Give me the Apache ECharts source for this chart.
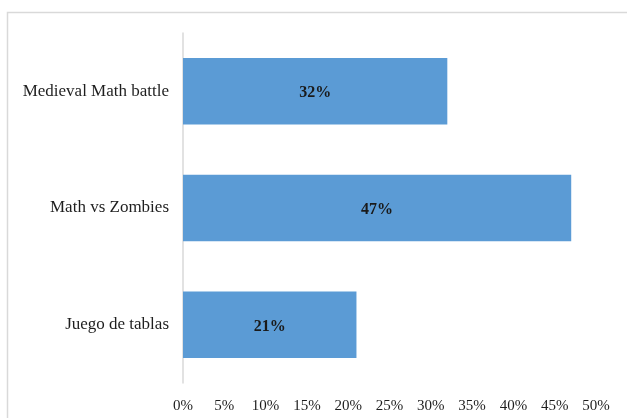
<!DOCTYPE html>
<html>
<head>
<meta charset="utf-8">
<script src="https://cdn.jsdelivr.net/npm/echarts@6/dist/echarts.min.js"></script>
<style>
html,body{margin:0;padding:0;background:#fff;}
#c{width:627px;height:418px;}
</style>
</head>
<body>
<div id="c"></div>
<script>
var categories = ['Juego de tablas', 'Math vs Zombies', 'Medieval Math battle'];
var values = [21, 47, 32];
var tickMax = 50;
var tickStep = 5;

var chart = echarts.init(document.getElementById('c'), null, {renderer: 'canvas'});
chart.setOption({
  animation: false,
  backgroundColor: '#ffffff',
  graphic: [{
    type: 'rect',
    shape: {x: 7.5, y: 12.5, width: 640, height: 420},
    style: {fill: 'none', stroke: '#d9d9d9', lineWidth: 1.5},
    silent: true
  }],
  grid: {left: 183, right: 31, top: 33, bottom: 35, containLabel: false},
  xAxis: {
    type: 'value',
    min: 0, max: tickMax, interval: tickStep,
    axisLine: {show: false},
    axisTick: {show: false},
    splitLine: {show: false},
    axisLabel: {
      formatter: '{value}%',
      fontFamily: 'Liberation Serif',
      fontSize: 15,
      color: '#1e1e1e',
      margin: 16
    }
  },
  yAxis: {
    type: 'category',
    data: categories,
    axisLine: {show: true, lineStyle: {color: '#d9d9d9', width: 1.5}},
    axisTick: {show: false},
    axisLabel: {
      fontFamily: 'Liberation Serif',
      fontSize: 17,
      color: '#1e1e1e',
      margin: 14,
      padding: [4, 0, 0, 0]
    }
  },
  series: [{
    type: 'bar',
    data: values,
    barCategoryGap: '43%',
    itemStyle: {color: '#5b9bd5'},
    label: {
      show: true,
      position: 'inside',
      offset: [0, 2],
      formatter: '{c}%',
      fontFamily: 'Liberation Serif',
      fontWeight: 'bold',
      fontSize: 16,
      color: '#1a1a1a'
    }
  }]
});
</script>
</body>
</html>
